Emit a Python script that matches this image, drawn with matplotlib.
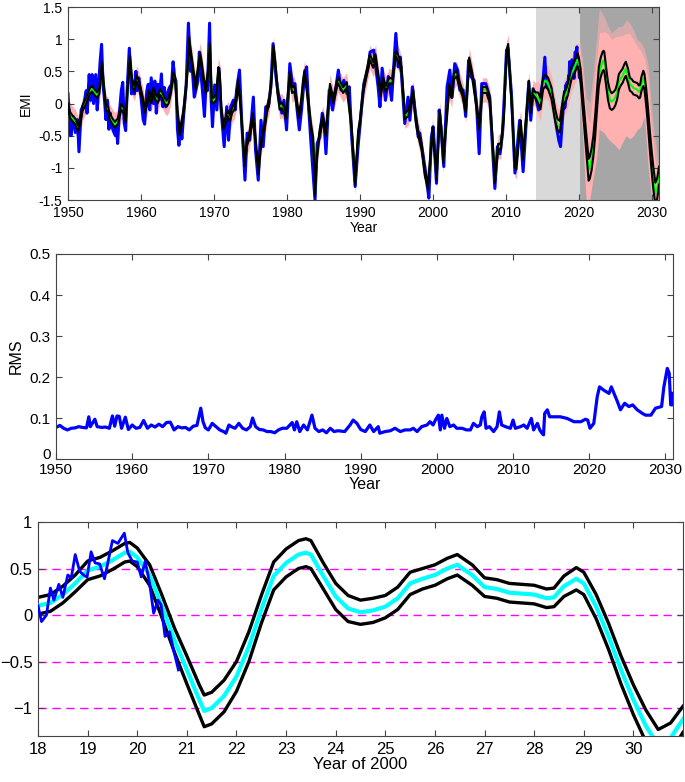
import numpy as np
import matplotlib
matplotlib.use('Agg')
import matplotlib.pyplot as plt
from matplotlib.transforms import ScaledTranslation

plt.rcParams['font.family'] = ['Liberation Sans', 'DejaVu Sans']

# ---------------- data ----------------
# Ensemble-mean EMI (hindcast), decimal years
hind_t = [1950.0, 1950.3, 1950.6, 1951.0, 1951.4, 1951.8, 1952.0, 1952.5, 1953.0, 1953.3,
          1953.6, 1954.0, 1954.3, 1954.65, 1954.9, 1955.2, 1955.5, 1955.7, 1956.0, 1956.4,
          1956.8, 1957.0, 1957.3, 1957.6, 1957.9, 1958.2, 1958.5, 1958.8, 1959.1, 1959.4,
          1959.7, 1960.0, 1960.3, 1960.5, 1960.8, 1961.1, 1961.4, 1961.7, 1962.0, 1962.3,
          1962.6, 1962.9, 1963.2, 1963.5, 1963.8, 1964.1, 1964.4, 1964.7, 1965.0, 1965.3,
          1965.5, 1965.8, 1966.1, 1966.4, 1966.6, 1966.9, 1967.2, 1967.5, 1967.8, 1968.1,
          1968.3, 1968.6, 1968.9, 1969.2, 1969.45, 1969.7, 1970.0, 1970.3, 1970.6, 1970.8,
          1971.0, 1971.3, 1971.6, 1971.9, 1972.2, 1972.5, 1972.8, 1973.1, 1973.3, 1973.6,
          1973.9, 1974.2, 1974.5, 1974.8, 1975.0, 1975.3, 1975.6, 1975.9, 1976.1, 1976.4,
          1976.7, 1977.0, 1977.3, 1977.6, 1977.9, 1978.15, 1978.4, 1978.7, 1979.0, 1979.3,
          1979.6, 1979.9, 1980.2, 1980.4, 1980.7, 1981.0, 1981.3, 1981.6, 1981.9, 1982.2,
          1982.4, 1982.7, 1983.0, 1983.3, 1983.6, 1983.85, 1984.1, 1984.5, 1984.9, 1985.35,
          1985.9, 1986.35, 1987.0, 1987.7, 1988.2, 1988.85, 1989.35, 1989.77, 1990.0, 1990.46,
          1991.37, 1991.83, 1992.15, 1992.51, 1992.83, 1993.2, 1993.56, 1994.02, 1994.43, 1994.93,
          1995.39, 1995.71, 1996.16, 1996.62, 1997.08, 1997.31, 1997.67, 1997.99, 1998.45, 1998.9,
          1999.36, 1999.95, 2000.27, 2000.5, 2000.96, 2001.19, 2001.42, 2001.87, 2002.24, 2002.56,
          2002.88, 2003.24, 2003.61, 2004.06, 2004.52, 2004.98, 2005.43, 2005.89, 2006.35, 2006.8,
          2007.35, 2007.81, 2008.17, 2008.49, 2008.95, 2009.32, 2009.73, 2010.09, 2010.32, 2010.78,
          2011.23, 2011.45, 2011.92, 2012.05, 2012.37, 2012.83, 2013.15, 2013.42, 2013.74, 2014.06,
          2014.43, 2014.75, 2015.11, 2015.43, 2015.8, 2016.26, 2016.71, 2017.08, 2017.4, 2017.72]
hind_mean = [-0.05, -0.18, -0.23, -0.28, -0.39, -0.2, -0.07, 0.05, 0.2, 0.23,
             0.18, 0.13, 0.2, 0.6, 0.26, -0.05, -0.1, -0.2, -0.26, -0.33,
             -0.28, -0.2, -0.05, -0.1, -0.25, 0.31, 0.7, 0.31, 0.23, 0.39,
             0.31, 0.18, 0.03, -0.1, 0.0, 0.16, 0.05, 0.2, 0.1, 0.05,
             0.18, 0.13, 0.05, 0.0, 0.05, 0.2, 0.44, 0.36, -0.15, -0.45,
             -0.36, -0.15, 0.16, 0.57, 0.98, 0.73, 0.47, 0.26, 0.52, 0.75,
             0.62, 0.36, 0.2, 0.5, 0.9, 0.05, 0.05, 0.1, 0.52, 0.42,
             -0.1, -0.36, -0.26, -0.15, -0.23, -0.1, -0.05, 0.1, 0.33, 0.05,
             -0.46, -0.93, -0.62, -0.52, -0.41, -0.2, -0.46, -0.83, -1.05, -0.67,
             -0.46, -0.31, -0.08, 0.05, 0.42, 0.85, 0.62, 0.21, -0.05, -0.03,
             -0.1, -0.2, 0.21, 0.45, 0.21, 0.23, 0.05, -0.18, -0.05, 0.31,
             0.47, 0.26, -0.05, -0.36, -0.57, -1.4, -0.83, -0.44, -0.23, -0.46,
             0.26, 0.05, 0.36, 0.21, 0.29, -0.36, -1.22, -0.46, -0.3, 0.21,
             0.72, 0.6, 0.72, 0.42, 0.16, 0.36, 0.23, 0.36, 0.34, 0.78,
             0.67, 0.52, -0.2, -0.15, 0.05, 0.16, -0.26, -0.46, -0.67, -1.08,
             -1.29, -0.41, -0.78, -1.14, -0.15, -0.46, -0.88, -0.26, 0.26, 0.13,
             0.42, 0.47, 0.31, 0.16, -0.1, 0.67, 0.42, 0.05, -0.36, 0.21,
             0.21, 0.05, -0.57, -1.19, -0.67, -0.67, -0.2, 0.78, 0.88, 0.05,
             -0.95, -0.98, -0.36, -0.31, -0.83, -0.15, 0.31, -0.1, 0.18, 0.13,
             0.08, 0.0, 0.31, 0.36, 0.31, 0.16, -0.15, -0.33, -0.36, -0.1]

# Forecast (years of 2000) : ensemble mean and half-width of the black envelope
fc_t = [18.0, 18.25, 18.5, 18.75, 19.0, 19.25, 19.5, 19.75, 19.85, 20.0,
        20.25, 20.5, 20.75, 21.0, 21.25, 21.35, 21.5, 21.75, 22.0, 22.25,
        22.5, 22.75, 23.0, 23.25, 23.4, 23.5, 23.75, 24.0, 24.25, 24.5,
        24.75, 25.0, 25.25, 25.5, 25.75, 26.0, 26.25, 26.45, 26.75, 27.0,
        27.25, 27.5, 27.75, 28.0, 28.25, 28.4, 28.6, 28.85, 29.0, 29.25,
        29.5, 29.75, 30.0, 30.25, 30.5, 30.75, 31.0]
fc_mean = [0.10, 0.13, 0.22, 0.34, 0.48, 0.52, 0.59, 0.67, 0.68, 0.62,
           0.43, 0.09, -0.27, -0.59, -0.91, -1.03, -1.0, -0.87, -0.66, -0.34,
           0.06, 0.42, 0.56, 0.65, 0.67, 0.65, 0.42, 0.2, 0.07, 0.03,
           0.05, 0.09, 0.18, 0.34, 0.39, 0.43, 0.5, 0.54, 0.43, 0.30,
           0.28, 0.24, 0.23, 0.22, 0.18, 0.19, 0.31, 0.39, 0.34, 0.09,
           -0.23, -0.59, -0.91, -1.19, -1.40, -1.32, -1.12]
fc_half = [0.09, 0.09, 0.09, 0.09, 0.1, 0.1, 0.1, 0.1, 0.1, 0.1,
           0.11, 0.12, 0.13, 0.15, 0.16, 0.17, 0.17, 0.17, 0.16, 0.16,
           0.15, 0.15, 0.15, 0.15, 0.15, 0.15, 0.14, 0.14, 0.14, 0.13,
           0.13, 0.12, 0.12, 0.12, 0.11, 0.11, 0.11, 0.11, 0.11, 0.1,
           0.1, 0.1, 0.1, 0.1, 0.1, 0.1, 0.11, 0.12, 0.12, 0.13,
           0.14, 0.15, 0.16, 0.17, 0.17, 0.16, 0.14]

# Ensemble spread (pink) of the forecast members: dense core and faint extremes
spread_t = [2020.1, 2020.5, 2021.0, 2021.5, 2022.0, 2022.5, 2022.8, 2023.5, 2024.0, 2024.5,
            2025.0, 2025.5, 2026.0, 2026.5, 2027.0, 2027.5, 2028.0, 2028.5, 2029.0, 2029.5,
            2030.0, 2030.5, 2031.0]
spread_hi = [0.93, 0.55, -0.1, -0.31, 0.3, 0.75, 1.1, 1.12, 1.09, 1.0,
             1.04, 1.05, 1.06, 1.09, 1.09, 1.0, 0.9, 0.83, 0.7, 0.42,
             -0.36, -0.88, -1.14]
spread_lo = [0.1, -0.46, -1.5, -1.5, -1.14, -0.8, -0.4, -0.46, -0.55, -0.6,
             -0.65, -0.72, -0.6, -0.5, -0.55, -0.5, -0.41, -0.36, -0.2, -0.98,
             -1.5, -1.5, -1.5]
spread_hi_max = [0.99, 0.7, 0.1, 0.0, 0.5, 1.09, 1.48, 1.35, 1.2, 1.1,
                 1.15, 1.2, 1.2, 1.3, 1.25, 1.15, 1.0, 0.95, 0.85, 0.6,
                 -0.1, -0.6, -1.0]
hind_spread_half = [0.19, 0.27]      # before / after 2014
hind_env_half = [0.045, 0.09]        # black envelope half-width before / after 2014

# Observed EMI
obs_t = [1950.0, 1950.2, 1950.4, 1950.7, 1951.0, 1951.3, 1951.5, 1951.8, 1952.2, 1952.5,
         1952.6, 1952.9, 1953.1, 1953.3, 1953.5, 1953.8, 1954.0, 1954.2, 1954.4, 1954.6,
         1954.8, 1955.0, 1955.2, 1955.4, 1955.6, 1955.8, 1956.0, 1956.3, 1956.5, 1956.6,
         1956.8, 1957.0, 1957.3, 1957.5, 1957.7, 1957.9, 1958.1, 1958.4, 1958.7, 1958.9,
         1959.1, 1959.3, 1959.5, 1959.7, 1960.0, 1960.3, 1960.5, 1960.8, 1961.0, 1961.2,
         1961.4, 1961.7, 1961.9, 1962.1, 1962.3, 1962.5, 1962.8, 1963.0, 1963.2, 1963.4,
         1963.6, 1963.9, 1964.2, 1964.4, 1964.6, 1964.8, 1965.0, 1965.2, 1965.4, 1965.6,
         1965.9, 1966.2, 1966.5, 1966.8, 1967.0, 1967.3, 1967.5, 1967.8, 1968.0, 1968.2,
         1968.5, 1968.7, 1968.9, 1969.1, 1969.4, 1969.6, 1969.8, 1970.1, 1970.4, 1970.7,
         1970.95, 1971.4, 1971.75, 1972.0, 1972.3, 1972.65, 1972.9, 1973.1, 1973.5, 1973.8,
         1974.25, 1974.55, 1974.9, 1975.4, 1975.7, 1976.07, 1976.45, 1976.75, 1977.1, 1977.45,
         1977.8, 1978.1, 1978.5, 1978.8, 1979.05, 1979.3, 1979.6, 1979.95, 1980.4, 1980.8,
         1981.1, 1981.4, 1981.7, 1982.0, 1982.4, 1982.7, 1983.0, 1983.3, 1983.85, 1984.15,
         1984.5, 1984.85, 1985.1, 1985.35, 1985.8, 1986.25, 1986.6, 1987.05, 1987.4, 1987.8,
         1988.2, 1988.55, 1988.85, 1989.35, 1989.75, 1990.2, 1990.55, 1991.15, 1991.4, 1991.9,
         1992.5, 1992.75, 1993.05, 1993.5, 1993.9, 1994.35, 1994.55, 1994.93, 1995.25, 1995.55,
         1996.15, 1996.6, 1996.85, 1997.2, 1997.55, 1998.0, 1998.2, 1998.7, 1999.15, 1999.45,
         1999.8, 2000.05, 2000.5, 2000.87, 2001.1, 2001.5, 2001.95, 2002.33, 2002.65, 2003.0,
         2003.4, 2003.7, 2004.15, 2004.5, 2004.9, 2005.2, 2005.66, 2006.0, 2006.35, 2006.7,
         2007.25, 2007.8, 2008.17, 2008.5, 2008.85, 2009.2, 2009.55, 2010.1, 2010.3, 2010.8,
         2011.25, 2011.9, 2012.37, 2013.15, 2013.42, 2013.74, 2014.2, 2014.5, 2014.8, 2015.1,
         2015.35, 2015.57, 2016.0, 2016.5, 2016.94, 2017.26, 2017.5, 2017.85]
obs_v = [0.15, -0.3, -0.5, -0.2, -0.45, -0.25, -0.75, -0.1, 0.0, 0.2,
         -0.15, 0.45, 0.05, 0.45, 0.0, 0.45, -0.1, 0.3, 0.65, 0.92,
         0.3, 0.05, -0.25, 0.05, -0.4, -0.15, -0.35, -0.45, -0.5, -0.3,
         -0.62, -0.2, 0.2, 0.33, -0.3, -0.42, 0.2, 0.86, 0.15, 0.35,
         0.15, 0.5, 0.2, 0.4, 0.1, -0.25, -0.32, 0.2, 0.3, -0.1,
         0.4, 0.0, 0.35, -0.15, 0.3, 0.05, 0.46, -0.05, 0.25, -0.05,
         0.15, 0.25, 0.3, 0.65, 0.4, 0.35, -0.4, -0.65, -0.3, -0.55,
         -0.1, 0.3, 1.25, 0.5, 0.6, 0.1, 0.2, 0.35, 0.8, 0.5,
         0.1, -0.2, 0.3, 0.2, 1.25, 0.1, -0.36, 0.29, -0.1, 0.55,
         -0.05, -0.67, -0.05, -0.57, -0.05, 0.05, -0.1, 0.21, 0.52, -0.26,
         -1.19, -0.46, -0.57, 0.1, -0.72, -1.19, -0.26, -0.67, -0.05, -0.05,
         0.26, 0.93, 0.42, 0.16, 0.05, -0.15, 0.05, -0.41, 0.62, 0.26,
         0.31, -0.1, -0.41, -0.1, 0.42, 0.57, -0.1, -0.62, -1.5, -0.62,
         -0.52, -0.15, -0.31, -0.78, 0.21, -0.1, 0.16, 0.52, 0.21, 0.36,
         0.16, 0.26, -0.46, -1.29, -0.67, -0.1, 0.31, 0.57, 0.8, 0.83,
         0.26, -0.05, 0.55, 0.05, 0.42, 0.05, 0.42, 1.09, 0.57, 0.72,
         -0.31, 0.1, -0.26, 0.26, -0.1, -0.52, -0.46, -0.83, -1.19, -1.47,
         -0.52, -0.36, -1.24, -0.1, -0.36, -0.98, 0.26, 0.52, 0.1, 0.62,
         0.52, 0.21, 0.21, -0.2, 0.67, 0.42, 0.36, -0.05, -0.78, 0.31,
         0.31, 0.1, -0.67, -1.32, -0.67, -0.78, -0.46, 0.83, 0.86, 0.1,
         -1.08, -0.26, -1.06, 0.34, -0.26, 0.23, 0.05, -0.1, 0.16, 0.36,
         0.72, 0.26, 0.21, 0.05, -0.36, -0.57, -0.67, -0.1]
# Recent observations (years of 2000)
obs2_t = [18.0, 18.07, 18.17, 18.25, 18.32, 18.42, 18.5, 18.6, 18.67, 18.75,
          18.84, 18.94, 18.99, 19.07, 19.15, 19.24, 19.34, 19.5, 19.61, 19.74,
          19.81, 19.9, 20.0, 20.08, 20.16, 20.25, 20.33, 20.42, 20.48, 20.56,
          20.65, 20.73, 20.83]
obs2_v = [0.10, -0.07, 0.0, 0.29, 0.16, 0.33, 0.19, 0.43, 0.40, 0.65,
          0.47, 0.42, 0.41, 0.68, 0.56, 0.55, 0.39, 0.80, 0.77, 0.88,
          0.67, 0.58, 0.57, 0.41, 0.58, 0.34, 0.02, 0.16, 0.11, -0.23,
          -0.18, -0.37, -0.59]

# RMS
rms_t = [1950.0, 1950.5, 1951.0, 1951.5, 1952.0, 1952.5, 1953.0, 1953.5, 1954.0, 1954.3,
         1954.5, 1955.1, 1955.4, 1956.0, 1956.5, 1957.0, 1957.4, 1957.7, 1958.0, 1958.3,
         1958.6, 1959.1, 1959.5, 1960.0, 1960.5, 1961.0, 1961.5, 1962.0, 1962.5, 1963.0,
         1963.5, 1964.0, 1964.5, 1965.0, 1965.5, 1966.0, 1966.5, 1967.0, 1967.5, 1968.0,
         1968.5, 1969.0, 1969.3, 1969.6, 1970.0, 1970.5, 1971.0, 1971.5, 1972.0, 1972.3,
         1972.7, 1973.0, 1973.5, 1974.0, 1974.5, 1975.0, 1975.5, 1975.8, 1976.2, 1976.7,
         1977.2, 1977.7, 1978.2, 1978.7, 1979.2, 1979.7, 1980.3, 1981.0, 1981.3, 1981.6,
         1982.0, 1982.5, 1983.0, 1983.6, 1984.0, 1984.5, 1985.0, 1985.5, 1986.0, 1986.5,
         1987.0, 1987.9, 1988.6, 1989.0, 1989.5, 1990.0, 1990.6, 1991.2, 1991.7, 1992.3,
         1992.5, 1993.2, 1993.9, 1994.5, 1995.2, 1995.8, 1996.5, 1996.9, 1997.4, 1998.0,
         1998.7, 1999.1, 1999.5, 1999.8, 2000.2, 2000.45, 2000.65, 2001.0, 2001.3, 2001.7,
         2002.2, 2002.6, 2003.3, 2003.9, 2004.4, 2004.8, 2005.3, 2005.7, 2005.9, 2006.2,
         2006.45, 2006.9, 2007.45, 2007.9, 2008.2, 2008.5, 2009.0, 2009.65, 2010.0, 2010.3,
         2011.0, 2011.4, 2011.85, 2012.4, 2012.7, 2013.2, 2013.5, 2013.8, 2014.0, 2014.15,
         2014.5, 2014.8, 2015.35, 2016.2, 2017.1, 2018.0, 2018.9, 2019.5, 2019.8, 2020.1,
         2020.6, 2021.05, 2021.35, 2021.9, 2022.6, 2022.9, 2023.25, 2023.7, 2024.1, 2024.65,
         2025.2, 2025.7, 2026.3, 2027.0, 2027.4, 2028.1, 2028.7, 2029.5, 2029.8, 2030.25,
         2030.5, 2030.7, 2030.9, 2031.0]
rms_v = [0.077, 0.082, 0.075, 0.071, 0.075, 0.076, 0.079, 0.077, 0.076, 0.103,
         0.079, 0.097, 0.079, 0.077, 0.078, 0.075, 0.105, 0.080, 0.105, 0.104,
         0.075, 0.102, 0.072, 0.083, 0.075, 0.077, 0.094, 0.075, 0.083, 0.078,
         0.085, 0.079, 0.089, 0.090, 0.071, 0.079, 0.076, 0.077, 0.071, 0.080,
         0.082, 0.124, 0.091, 0.076, 0.071, 0.087, 0.079, 0.071, 0.067, 0.063,
         0.083, 0.079, 0.075, 0.087, 0.075, 0.071, 0.079, 0.100, 0.079, 0.072,
         0.071, 0.067, 0.067, 0.064, 0.071, 0.075, 0.075, 0.089, 0.071, 0.091,
         0.067, 0.083, 0.071, 0.107, 0.075, 0.067, 0.071, 0.064, 0.075, 0.067,
         0.069, 0.067, 0.083, 0.095, 0.087, 0.072, 0.067, 0.083, 0.067, 0.079,
         0.063, 0.067, 0.069, 0.075, 0.067, 0.071, 0.071, 0.075, 0.067, 0.079,
         0.083, 0.091, 0.083, 0.095, 0.107, 0.071, 0.107, 0.075, 0.099, 0.079,
         0.083, 0.075, 0.075, 0.071, 0.071, 0.087, 0.079, 0.083, 0.103, 0.115,
         0.075, 0.079, 0.067, 0.079, 0.115, 0.083, 0.079, 0.075, 0.095, 0.075,
         0.079, 0.083, 0.075, 0.099, 0.071, 0.087, 0.071, 0.063, 0.059, 0.111,
         0.120, 0.103, 0.103, 0.103, 0.099, 0.091, 0.091, 0.097, 0.095, 0.075,
         0.087, 0.152, 0.176, 0.168, 0.160, 0.176, 0.160, 0.140, 0.120, 0.136,
         0.128, 0.132, 0.120, 0.111, 0.107, 0.107, 0.124, 0.128, 0.176, 0.221,
         0.209, 0.132, 0.132, 0.160]

# Tick labels
top_yticks = [-1.5, -1, -0.5, 0, 0.5, 1, 1.5]
top_yticklabels = ['-1.5', '-1', '-0.5', '0', '0.5', '1', '1.5']
year_ticks = [1950, 1960, 1970, 1980, 1990, 2000, 2010, 2020, 2030]
rms_yticks = [0, 0.1, 0.2, 0.3, 0.4, 0.5]
rms_yticklabels = ['0', '0.1', '0.2', '0.3', '0.4', '0.5']
bot_xticks = [18, 19, 20, 21, 22, 23, 24, 25, 26, 27, 28, 29, 30]
bot_yticks = [-1, -0.5, 0, 0.5, 1]
bot_yticklabels = ['\u22121', '\u22120.5', '0', '0.5', '1']
ref_levels = [0.5, 0, -0.5, -1]

# ---------------- derived arrays ----------------
hind_t_a = np.array(hind_t)
fc_t_a = np.array(fc_t) + 2000
all_t = np.concatenate([hind_t_a, fc_t_a])
all_mean = np.concatenate([np.array(hind_mean), np.array(fc_mean)])
all_half = np.concatenate([np.where(hind_t_a < 2014.1, hind_env_half[0], hind_env_half[1]),
                           np.array(fc_half)])
pk = all_t <= 2020.05
pink_half = np.where(all_t < 2014.1, hind_spread_half[0], hind_spread_half[1])

obs2_t_a = np.array(obs2_t) + 2000
sel = obs2_t_a <= 2020.1
top_obs_t = np.concatenate([np.array(obs_t), obs2_t_a[sel]])
top_obs_v = np.concatenate([np.array(obs_v), np.array(obs2_v)[sel]])

# ---------------- figure ----------------
fig = plt.figure(figsize=(6.85, 7.82), dpi=100)
spine_col = '#444444'
pink = '#ffb0b0'


def style(ax, fs):
    for s in ax.spines.values():
        s.set_color(spine_col)
        s.set_linewidth(0.8)
    ax.tick_params(direction='in', top=True, right=True, length=4, width=0.8,
                   color=spine_col, labelsize=fs, pad=4)


# Top panel
ax1 = fig.add_axes([0.0993, 0.7442, 0.8628, 0.2468])
ax1.axvspan(2014.1, 2020.1, color='#d9d9d9', lw=0, zorder=0)
ax1.axvspan(2020.1, 2031, color='#a6a6a6', lw=0, zorder=0)
ax1.fill_between(all_t[pk], (all_mean - pink_half)[pk], (all_mean + pink_half)[pk],
                 color=pink, lw=0, zorder=1)
ax1.fill_between(spread_t, spread_hi, spread_hi_max, color=pink, alpha=0.55, lw=0, zorder=1)
ax1.fill_between(spread_t, spread_lo, spread_hi, color=pink, lw=0, zorder=1)
ax1.plot(top_obs_t, top_obs_v, color='#0000ff', lw=2.2, zorder=2)
ax1.plot(all_t, all_mean, color='#00ff00', lw=1.5, zorder=3)
ax1.plot(all_t, all_mean + all_half, color='black', lw=1.5, zorder=4)
ax1.plot(all_t, all_mean - all_half, color='black', lw=1.5, zorder=4)
ax1.set_xlim(1950, 2031)
ax1.set_ylim(-1.5, 1.5)
ax1.set_xticks(year_ticks)
ax1.set_xticklabels([str(y) for y in year_ticks])
ax1.set_yticks(top_yticks)
ax1.set_yticklabels(top_yticklabels)
style(ax1, 10)
ax1.set_xlabel('Year', fontsize=10, labelpad=1)
ax1.set_ylabel('EMI', fontsize=10, labelpad=4)

# Middle panel
ax2 = fig.add_axes([0.0818, 0.4130, 0.9007, 0.2622])
ax2.plot(rms_t, rms_v, color='#0000ff', lw=2.3)
ax2.set_xlim(1950, 2031)
ax2.set_ylim(0, 0.5)
ax2.set_xticks(year_ticks)
ax2.set_xticklabels([str(y) for y in year_ticks])
ax2.set_yticks(rms_yticks)
ax2.set_yticklabels(rms_yticklabels)
style(ax2, 11)
ax2.tick_params(axis='x', pad=3)
ax2.set_xlabel('Year', fontsize=11.5, labelpad=0)
ax2.set_ylabel('RMS', fontsize=11.5, labelpad=4)
fig.canvas.draw()
zero_lbl = ax2.yaxis.get_major_ticks()[0].label1
zero_lbl.set_transform(zero_lbl.get_transform() +
                       ScaledTranslation(0, 4 / 72, fig.dpi_scale_trans))

# Bottom panel
ax3 = fig.add_axes([0.0555, 0.0588, 0.9416, 0.2737])
for lev in ref_levels:
    ax3.axhline(lev, color='#ff00ff', lw=1.0, dashes=(6, 4), zorder=1)
fct = np.array(fc_t)
fcm = np.array(fc_mean)
fch = np.array(fc_half)
ax3.plot(fct, fcm + fch, color='black', lw=2.4, zorder=2, solid_joinstyle='round')
ax3.plot(fct, fcm - fch, color='black', lw=2.4, zorder=2, solid_joinstyle='round')
ax3.plot(fct, fcm, color='#00ffff', lw=3.0, zorder=3, solid_joinstyle='round')
ax3.plot(obs2_t, obs2_v, color='#0000ff', lw=2.0, zorder=4)
ax3.set_xlim(18, 31)
ax3.set_ylim(-1.3, 1)
ax3.set_xticks(bot_xticks)
ax3.set_xticklabels([str(x) for x in bot_xticks])
ax3.set_yticks(bot_yticks)
ax3.set_yticklabels(bot_yticklabels)
style(ax3, 12)
ax3.set_xlabel('Year of 2000', fontsize=12, labelpad=0)

fig.savefig('out.png', dpi=100)
